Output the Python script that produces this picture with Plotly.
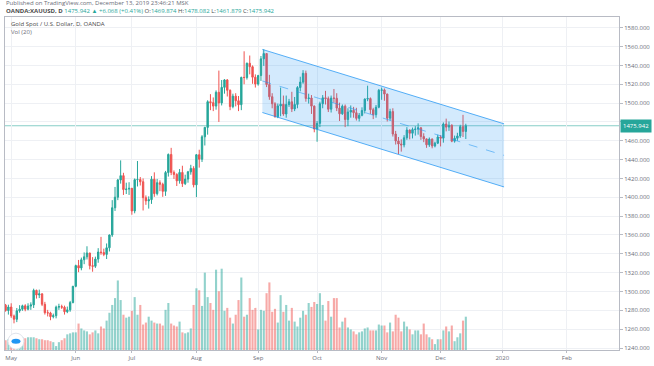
import plotly.graph_objects as go
import pandas as pd

# ---------------- data (XAUUSD daily, OANDA) ----------------
dates = pd.bdate_range("2019-04-29", "2019-12-13")

opens = [1285.5, 1279.8,
         1283.5, 1274.0, 1270.5, 1279.5, 1281.2, 1284.8, 1281.2, 1284.5, 1285.8, 1301.2, 1296.3, 1297.5,
         1286.4, 1277.5, 1277.2, 1273.3, 1274.3, 1283.4, 1284.0, 1283.3, 1278.5, 1280.5, 1288.2,
         1305.5, 1327.5, 1325.0, 1333.7, 1336.8, 1340.9, 1327.4, 1326.8, 1334.4, 1341.9, 1341.3, 1339.4,
         1346.4, 1360.0, 1388.9, 1400.1, 1418.4, 1423.0, 1408.2, 1408.7,
         1409.5, 1385.5, 1418.7, 1418.9, 1416.5, 1399.6, 1396.2, 1397.5, 1419.2, 1403.9, 1415.5, 1413.8,
         1406.3, 1426.3, 1445.5, 1426.4, 1424.3, 1417.5, 1426.4, 1414.5, 1419.3, 1427.0, 1430.7,
         1413.2, 1445.2, 1440.4, 1464.2, 1474.2, 1501.5, 1500.5, 1496.8, 1511.5, 1500.2, 1516.7, 1524.6,
         1513.6, 1496.3, 1507.4, 1502.5, 1498.3, 1527.3, 1527.1, 1542.3, 1538.6, 1527.5,
         1520.2, 1529.2, 1547.0, 1552.6, 1519.7, 1506.8, 1499.3, 1485.6, 1497.0, 1498.8, 1488.4, 1498.5,
         1501.4, 1493.8, 1498.6, 1516.5, 1522.3, 1531.6, 1504.9, 1505.4, 1496.8,
         1472.5, 1478.5, 1499.3, 1505.6, 1504.8, 1493.5, 1505.3, 1505.1, 1494.7, 1488.6, 1496.7, 1482.5,
         1490.5, 1492.4, 1489.8, 1483.8, 1487.0, 1492.2, 1504.3, 1504.8, 1493.0, 1487.7, 1495.6,
         1513.6, 1514.0, 1509.6, 1484.0, 1491.0, 1467.2, 1459.8, 1456.6, 1455.6, 1463.2, 1471.4, 1468.0,
         1471.9, 1472.4, 1473.7, 1464.5, 1462.0, 1455.7, 1461.8, 1454.5, 1457.5,
         1464.0, 1462.8, 1477.8, 1474.5, 1476.5, 1459.6, 1462.7, 1465.1, 1475.0, 1469.874]

highs = [1286.8, 1286.0,
         1287.5, 1275.5, 1282.5, 1285.5, 1286.0, 1286.5, 1287.5, 1288.5, 1303.0, 1302.0, 1302.0, 1298.0,
         1289.0, 1280.5, 1278.5, 1276.5, 1285.0, 1287.0, 1286.0, 1285.0, 1284.0, 1290.0, 1306.0,
         1328.5, 1333.5, 1336.0, 1341.5, 1348.0, 1341.0, 1336.5, 1337.0, 1346.0, 1358.0, 1345.5, 1351.0,
         1360.5, 1397.0, 1411.0, 1419.5, 1439.2, 1426.0, 1415.5, 1416.0,
         1410.0, 1420.0, 1438.5, 1421.5, 1420.0, 1402.0, 1401.0, 1422.5, 1426.5, 1419.5, 1418.0, 1415.5,
         1428.0, 1446.5, 1452.5, 1428.5, 1425.5, 1430.0, 1433.5, 1424.0, 1428.0, 1434.5, 1433.0,
         1446.0, 1450.5, 1466.0, 1474.8, 1503.0, 1509.5, 1506.0, 1513.5, 1534.5, 1524.5, 1525.5, 1525.5,
         1514.5, 1510.0, 1510.5, 1507.5, 1528.0, 1555.0, 1543.0, 1550.5, 1540.0, 1530.5,
         1530.0, 1550.0, 1557.0, 1552.8, 1530.0, 1510.5, 1501.0, 1499.5, 1516.5, 1508.0, 1508.0, 1504.5,
         1512.0, 1506.5, 1518.0, 1528.0, 1535.0, 1534.5, 1510.0, 1508.5, 1497.5,
         1481.0, 1501.5, 1508.5, 1513.0, 1507.0, 1508.0, 1515.0, 1510.5, 1500.5, 1498.5, 1498.5, 1494.5,
         1497.5, 1496.0, 1495.0, 1489.5, 1495.5, 1505.0, 1518.5, 1506.0, 1495.0, 1498.0, 1515.0,
         1516.5, 1515.5, 1510.0, 1494.0, 1494.5, 1470.5, 1464.0, 1461.5, 1466.0, 1474.5, 1472.0, 1474.0,
         1475.5, 1478.5, 1474.5, 1468.0, 1462.5, 1463.5, 1462.5, 1459.0, 1466.5,
         1466.0, 1479.5, 1483.5, 1480.5, 1477.5, 1465.5, 1468.5, 1477.0, 1487.5, 1478.082]

lows = [1278.6, 1275.5,
        1272.0, 1266.2, 1267.5, 1277.5, 1279.5, 1279.0, 1280.0, 1280.5, 1282.5, 1292.5, 1293.0, 1284.5,
        1275.5, 1273.5, 1269.5, 1271.5, 1271.5, 1280.5, 1281.5, 1275.5, 1277.0, 1278.5, 1287.5,
        1304.5, 1320.5, 1322.5, 1329.0, 1334.0, 1323.5, 1321.0, 1325.0, 1330.5, 1339.0, 1337.5, 1334.5,
        1342.5, 1358.0, 1385.5, 1397.0, 1414.5, 1402.5, 1403.5, 1402.5,
        1381.5, 1383.0, 1411.5, 1412.5, 1386.0, 1392.0, 1388.0, 1393.0, 1400.5, 1402.0, 1406.5, 1400.5,
        1401.5, 1422.0, 1423.5, 1419.5, 1412.0, 1414.5, 1411.0, 1413.0, 1415.5, 1424.0, 1410.5,
        1400.2, 1431.5, 1437.5, 1455.0, 1466.5, 1492.5, 1491.5, 1493.0, 1480.0, 1497.5, 1510.0, 1507.0,
        1492.5, 1494.5, 1496.5, 1491.5, 1492.5, 1520.0, 1525.0, 1530.5, 1520.5, 1516.5,
        1518.5, 1523.5, 1539.5, 1517.0, 1503.5, 1494.5, 1484.5, 1484.0, 1486.0, 1486.5, 1484.5, 1496.0,
        1490.5, 1491.5, 1494.5, 1512.5, 1520.5, 1501.5, 1499.5, 1488.5, 1469.0,
        1459.0, 1474.5, 1494.5, 1498.5, 1490.5, 1490.0, 1500.5, 1491.5, 1481.0, 1487.5, 1474.5, 1475.5,
        1484.5, 1484.5, 1481.5, 1480.5, 1486.0, 1489.0, 1502.0, 1488.5, 1483.0, 1484.5, 1494.5,
        1503.5, 1502.5, 1480.5, 1481.5, 1464.5, 1456.0, 1446.0, 1448.5, 1453.0, 1461.0, 1461.5, 1462.5,
        1465.5, 1466.5, 1461.0, 1458.5, 1452.5, 1453.5, 1452.0, 1453.0, 1456.5,
        1454.0, 1458.0, 1470.0, 1470.5, 1458.5, 1458.0, 1460.0, 1463.0, 1464.0, 1461.879]

closes = [1279.8, 1283.5,
          1274.0, 1270.5, 1279.5, 1281.2, 1284.8, 1281.2, 1284.5, 1285.8, 1301.2, 1296.3, 1297.5, 1286.4,
          1277.5, 1277.2, 1273.3, 1274.3, 1283.4, 1284.0, 1283.3, 1278.5, 1280.5, 1288.2, 1305.5,
          1327.5, 1325.0, 1333.7, 1336.8, 1340.9, 1327.4, 1326.8, 1334.4, 1341.9, 1341.3, 1339.4, 1346.4,
          1360.0, 1388.9, 1400.1, 1418.4, 1423.0, 1408.2, 1408.7, 1409.5,
          1385.5, 1418.7, 1418.9, 1416.5, 1399.6, 1396.2, 1397.5, 1419.2, 1403.9, 1415.5, 1413.8, 1406.3,
          1426.3, 1445.5, 1426.4, 1424.3, 1417.5, 1426.4, 1414.5, 1419.3, 1427.0, 1430.7, 1413.2,
          1445.2, 1440.4, 1464.2, 1474.2, 1501.5, 1500.5, 1496.8, 1511.5, 1500.2, 1516.7, 1524.6, 1513.6,
          1496.3, 1507.4, 1502.5, 1498.3, 1527.3, 1527.1, 1542.3, 1538.6, 1527.5, 1520.2,
          1529.2, 1547.0, 1552.6, 1519.7, 1506.8, 1499.3, 1485.6, 1497.0, 1498.8, 1488.4, 1498.5, 1501.4,
          1493.8, 1498.6, 1516.5, 1522.3, 1531.6, 1504.9, 1505.4, 1496.8, 1472.5,
          1478.5, 1499.3, 1505.6, 1504.8, 1493.5, 1505.3, 1505.1, 1494.7, 1488.6, 1496.7, 1482.5, 1490.5,
          1492.4, 1489.8, 1483.8, 1487.0, 1492.2, 1504.3, 1504.8, 1493.0, 1487.7, 1495.6, 1513.6,
          1514.0, 1509.6, 1484.0, 1491.0, 1467.2, 1459.8, 1456.6, 1455.6, 1463.2, 1471.4, 1468.0, 1471.9,
          1472.4, 1473.7, 1464.5, 1462.0, 1455.7, 1461.8, 1454.5, 1457.5, 1464.0,
          1462.8, 1477.8, 1474.5, 1476.5, 1459.6, 1462.7, 1465.1, 1475.0, 1469.9, 1475.942]

# tick volume, thousands
volumes = [10, 11,
           12, 9, 13, 13, 13, 12, 13, 13, 13, 12, 11, 11,
           10, 10, 9, 8, 4, 8, 10, 12, 16, 17, 18,
           18, 27, 22, 20, 19, 16, 18, 20, 17, 24, 22, 30,
           38, 46, 53, 71, 51, 36, 33, 34,
           40, 54, 36, 46, 26, 28, 34, 30, 28, 27, 27, 25,
           41, 48, 27, 25, 24, 29, 18, 17, 18, 22, 46,
           63, 61, 45, 79, 54, 48, 41, 82, 60, 83, 40, 43,
           33, 27, 36, 51, 74, 34, 36, 53, 41, 43,
           21, 41, 40, 58, 69, 39, 42, 28, 56, 39, 46, 30,
           43, 29, 24, 33, 40, 36, 48, 44, 49,
           47, 58, 46, 30, 50, 34, 53, 53, 23, 29, 33, 23,
           21, 19, 16, 18, 19, 22, 23, 20, 20, 20, 26,
           25, 25, 18, 28, 19, 36, 33, 19, 29, 24, 21, 16,
           20, 20, 16, 27, 16, 13, 11, 6, 11,
           11, 20, 24, 19, 25, 9, 13, 17, 30, 34]

month_ticks = ["2019-05-01", "2019-06-03", "2019-07-01", "2019-08-01", "2019-09-02", "2019-10-01",
               "2019-11-01", "2019-12-02", "2020-01-01", "2020-02-03"]
month_labels = ["May", "Jun", "Jul", "Aug", "Sep", "Oct", "Nov", "Dec", "2020", "Feb"]
price_ticks = [1240, 1260, 1280, 1300, 1320, 1340, 1360, 1380, 1400, 1420, 1440, 1460, 1480,
               1500, 1520, 1540, 1560, 1580]

# parallel channel drawing
channel_x = ["2019-09-04 00:00", "2020-01-02 03:00"]
channel_upper = [1557.0, 1478.0]
channel_lower = [1490.0, 1411.0]
channel_mid = [1523.5, 1444.5]

last_price = 1475.942

# ---------------- figure ----------------
assert len(dates) == len(opens) == len(highs) == len(lows) == len(closes) == len(volumes)

UP = "#26a69a"
DN = "#ef5350"
xc = dates + pd.Timedelta(hours=12)
vol_colors = ["rgba(38,166,154,0.5)" if c >= o else "rgba(239,83,80,0.5)" for o, c in zip(opens, closes)]

fig = go.Figure()

fig.add_trace(go.Candlestick(
    x=xc, open=opens, high=highs, low=lows, close=closes,
    increasing=dict(line=dict(color=UP, width=1), fillcolor=UP),
    decreasing=dict(line=dict(color=DN, width=1), fillcolor=DN),
    whiskerwidth=0, hoverinfo="skip", showlegend=False,
))

cx = pd.to_datetime(channel_x)
fig.add_trace(go.Scatter(
    x=[cx[0], cx[1], cx[1], cx[0], cx[0]],
    y=[channel_upper[0], channel_upper[1], channel_lower[1], channel_lower[0], channel_upper[0]],
    mode="lines", fill="toself", fillcolor="rgba(33,150,243,0.2)",
    line=dict(width=0), hoverinfo="skip", showlegend=False,
))
for ys, dash in [(channel_upper, "solid"), (channel_lower, "solid"), (channel_mid, "dash")]:
    fig.add_trace(go.Scatter(
        x=list(cx), y=ys, mode="lines",
        line=dict(color="rgba(33,150,243,0.75)" if dash == "solid" else "rgba(33,150,243,0.55)",
                  width=1, dash=dash),
        hoverinfo="skip", showlegend=False,
    ))

fig.add_trace(go.Bar(
    x=xc, y=volumes, marker=dict(color=vol_colors, line=dict(width=0)),
    yaxis="y2", hoverinfo="skip", showlegend=False,
))

L, R, T, B = 4, 34, 17, 9
W, H = 654, 366
pw, ph = W - L - R, H - T - B

def px_to_paper(xp, yp):
    return (xp - L) / pw, (H - B - yp) / ph

fig.update_layout(
    width=W, height=H,
    margin=dict(l=L, r=R, t=T, b=B),
    paper_bgcolor="white", plot_bgcolor="white",
    font=dict(family="Open Sans, Roboto, sans-serif", size=6, color="#4a4a4a"),
    bargap=0.25,
    xaxis=dict(
        type="date",
        rangebreaks=[dict(bounds=["sat", "mon"])],
        range=["2019-04-29 07:00", "2020-02-28 02:00"],
        rangeslider=dict(visible=False),
        tickvals=[pd.Timestamp(t) + pd.Timedelta(hours=12) for t in month_ticks],
        ticktext=month_labels,
        tickfont=dict(size=6, color="#6a6d78"),
        showgrid=True, gridcolor="#eef0f4", gridwidth=1,
        showline=True, linecolor="#b8bbc4", linewidth=1, mirror=True,
        ticks="outside", ticklen=2, tickcolor="#b8bbc4",
        zeroline=False, fixedrange=True,
    ),
    yaxis=dict(
        side="right",
        range=[1237.9, 1591.4],
        tickvals=price_ticks,
        tickformat=".3f",
        tickfont=dict(size=6, color="#6a6d78"),
        showgrid=True, gridcolor="#eef0f4", gridwidth=1,
        showline=True, linecolor="#b8bbc4", linewidth=1, mirror=True,
        ticks="outside", ticklen=3, tickcolor="#b8bbc4",
        zeroline=False, fixedrange=True,
    ),
    yaxis2=dict(
        overlaying="y", range=[0, 340], visible=False, fixedrange=True,
    ),
)

# last price line + label
fig.add_shape(type="line", xref="paper", x0=0, x1=1, yref="y", y0=last_price, y1=last_price,
              line=dict(color="rgba(38,166,154,0.55)", width=1), layer="below")
fig.add_annotation(xref="paper", x=1.0, xanchor="left", yref="y", y=last_price, yanchor="middle",
                   text=f"{last_price:.3f}", showarrow=False, bgcolor=UP,
                   font=dict(size=6, color="white"), borderpad=2, xshift=1)

# header texts
x0p, y1p = px_to_paper(3, 3)
fig.add_annotation(xref="paper", yref="paper", x=x0p, y=y1p, xanchor="left", yanchor="middle",
                   text="Published on TradingView.com, December 13, 2019 23:46:21 MSK",
                   showarrow=False, font=dict(size=6, color="#6a6d78"))
g = UP
line2 = (f"<b>OANDA:XAUUSD, D</b> <span style='color:{g}'>1475.942 ▲ +6.068 (+0.41%)</span> "
         f"O:<span style='color:{g}'>1469.874</span> H:<span style='color:{g}'>1478.082</span> "
         f"L:<span style='color:{g}'>1461.879</span> C:<span style='color:{g}'>1475.942</span>")
_, y2p = px_to_paper(3, 10.5)
fig.add_annotation(xref="paper", yref="paper", x=x0p, y=y2p, xanchor="left", yanchor="middle",
                   text=line2, showarrow=False, font=dict(size=6, color="#4a4a4a"))
x3p, y3p = px_to_paper(8, 24)
fig.add_annotation(xref="paper", yref="paper", x=x3p, y=y3p, xanchor="left", yanchor="middle",
                   text="Gold Spot / U.S. Dollar, D, OANDA", showarrow=False,
                   font=dict(size=6, color="#4a4a4a"))
_, y4p = px_to_paper(8, 32)
fig.add_annotation(xref="paper", yref="paper", x=x3p, y=y4p, xanchor="left", yanchor="middle",
                   text="Vol (20)", showarrow=False, font=dict(size=6, color="#6a6d78"))

# TradingView logo badge
lx, ly = px_to_paper(15, 348)
fig.add_shape(type="circle", xref="paper", yref="paper", xsizemode="pixel", ysizemode="pixel",
              xanchor=lx, yanchor=ly, x0=-8, x1=8, y0=-8, y1=8,
              fillcolor="white", line=dict(color="#e0e3eb", width=1))
fig.add_shape(type="circle", xref="paper", yref="paper", xsizemode="pixel", ysizemode="pixel",
              xanchor=lx, yanchor=ly, x0=-4.5, x1=4.5, y0=-2.5, y1=2.5,
              fillcolor="#2196f3", line=dict(width=0))

fig.write_html("out.html",
               config={"displayModeBar": False},
               post_script="document.body.style.margin='0';document.body.style.overflow='hidden';")
